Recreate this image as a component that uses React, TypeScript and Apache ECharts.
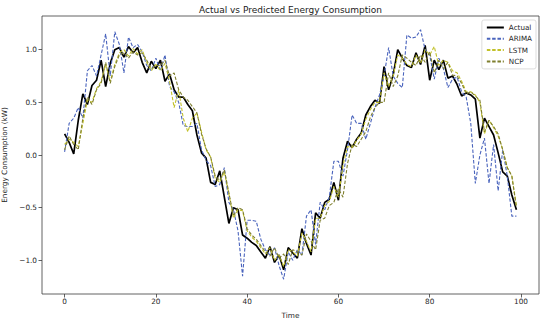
import React, { useEffect, useRef } from "react";
import * as echarts from "echarts";

const time: number[] = Array.from({ length: 100 }, (_, i) => i);

const actual: number[] = [
  0.2, 0.12, 0.01, 0.33, 0.58, 0.48, 0.66, 0.71, 0.9, 0.65,
  0.87, 1.0, 1.02, 0.93, 1.03, 0.97, 1.02, 0.88, 0.78, 0.89,
  0.82, 0.9, 0.7, 0.77, 0.62, 0.55, 0.55, 0.48, 0.42, 0.19,
  0.02, -0.03, -0.26, -0.28, -0.15, -0.4, -0.65, -0.5, -0.52, -0.76,
  -0.79, -0.83, -0.86, -0.92, -0.98, -0.87, -1.02, -0.95, -1.09, -0.88,
  -0.93, -0.98, -0.7, -0.84, -0.95, -0.55, -0.6, -0.45, -0.42, -0.26,
  -0.43, -0.03, 0.13, 0.07, 0.15, 0.21, 0.38, 0.46, 0.52, 0.49,
  0.84, 0.62, 0.76, 1.0, 0.92, 0.85, 0.83, 0.97, 0.86, 1.04,
  0.71, 0.9, 0.81, 0.9, 0.73, 0.75, 0.67, 0.56, 0.59, 0.57,
  0.53, 0.16, 0.35, 0.27, 0.19, 0.02, -0.16, -0.2, -0.38, -0.52,
];

const arima: number[] = [
  0.03, 0.3, 0.35, 0.45, 0.35, 0.8, 0.85, 0.75, 0.95, 1.15,
  0.75, 1.17, 1.05, 0.78, 1.12, 1.02, 1.05, 0.98, 0.85, 0.8,
  0.92, 0.8, 0.95, 0.65, 0.6, 0.5, 0.28, 0.27, 0.27, 0.3,
  0.05, -0.05, -0.1, -0.3, -0.28, -0.12, -0.45, -0.52, -0.72, -1.15,
  -0.62, -0.62, -0.63, -0.8, -0.9, -0.95, -0.88, -1.05, -1.18, -0.92,
  -1.0, -0.9, -0.95, -0.58, -0.52, -0.85, -0.45, -0.52, -0.4, -0.06,
  -0.06, -0.2, 0.05, 0.38, 0.3, 0.3, 0.15, 0.3, 0.45, 0.57,
  0.75, 1.02, 0.75, 0.68, 0.64, 1.14, 1.11, 1.12, 1.19, 1.0,
  0.95, 0.72, 0.92, 0.82, 0.64, 0.72, 0.74, 0.6, 0.55, 0.3,
  -0.27, 0.0, 0.16, -0.27, 0.1, -0.34, 0.05, -0.2, -0.58, -0.58,
];

const lstm: number[] = [
  0.1, 0.15, 0.12, 0.08, 0.3, 0.52, 0.5, 0.63, 0.7, 0.86,
  0.7, 0.86, 0.97, 1.0, 0.94, 1.01, 0.96, 1.0, 0.88, 0.8,
  0.86, 0.8, 0.87, 0.7, 0.45, 0.62, 0.35, 0.22, 0.35, 0.4,
  0.22, 0.05, -0.02, -0.22, -0.26, -0.16, -0.37, -0.6, -0.52, -0.53,
  -0.72, -0.78, -0.82, -0.88, -0.94, -0.88, -1.0, -0.95, -1.06, -0.9,
  -0.92, -0.96, -0.74, -0.82, -0.92, -0.6, -0.6, -0.48, -0.44, -0.3,
  -0.4, -0.1, 0.08, 0.07, 0.14, 0.2, 0.34, 0.43, 0.5, 0.5,
  0.78, 0.65, 0.75, 0.95, 0.92, 0.86, 0.84, 0.95, 0.87, 1.0,
  0.95, 1.03, 0.85, 0.9, 0.88, 0.8, 0.78, 0.7, 0.6, 0.6,
  0.57, 0.5, 0.2, 0.33, 0.26, 0.18, 0.05, -0.12, -0.2, -0.48,
];

const ncp: number[] = [
  0.05, 0.18, 0.1, 0.05, 0.35, 0.55, 0.48, 0.62, 0.68, 0.88,
  0.68, 0.84, 0.95, 0.97, 0.92, 0.98, 0.95, 0.97, 0.9, 0.82,
  0.85, 0.85, 0.9, 0.75, 0.78, 0.62, 0.55, 0.52, 0.46, 0.4,
  0.2, 0.06, -0.02, -0.2, -0.24, -0.14, -0.36, -0.58, -0.5, -0.52,
  -0.7, -0.76, -0.8, -0.86, -0.92, -0.96, -0.88, -0.98, -0.94, -1.04,
  -0.9, -0.92, -0.95, -0.75, -0.82, -0.9, -0.62, -0.6, -0.48, -0.45,
  -0.32, -0.4, -0.08, 0.1, 0.08, 0.15, 0.22, 0.36, 0.45, 0.5,
  0.5, 0.78, 0.65, 0.75, 0.95, 0.92, 0.88, 0.85, 0.95, 0.88,
  0.98, 0.78, 0.9, 0.82, 0.88, 0.76, 0.75, 0.68, 0.58, 0.6,
  0.56, 0.52, 0.22, 0.33, 0.27, 0.2, 0.05, -0.12, -0.2, -0.5,
];

const xTicks: number[] = [0, 20, 40, 60, 80, 100];
const yTicks: number[] = [-1.0, -0.5, 0.0, 0.5, 1.0];

const FONT = "DejaVu Sans";
const TXT = "#262626";

function pairs(vals: number[]): number[][] {
  return time.map((t, i) => [t, vals[i]]);
}

export default function App() {
  const ref = useRef<HTMLDivElement>(null);
  useEffect(() => {
    if (!ref.current) return;
    const chart = echarts.init(ref.current, null, { renderer: "svg" });
    const dashed = (name: string, vals: number[], color: string) => ({
      name,
      type: "line",
      data: pairs(vals),
      showSymbol: false,
      symbol: "none",
      lineStyle: { color, width: 1.1, type: [3.5, 1.8] },
      itemStyle: { color },
    });
    chart.setOption({
      animation: false,
      backgroundColor: "#ffffff",
      textStyle: { fontFamily: FONT },
      title: {
        text: "Actual vs Predicted Energy Consumption",
        left: 290.5,
        textAlign: "center",
        top: 5,
        padding: 0,
        textStyle: { fontSize: 9, fontWeight: "normal", color: "#1a1a1a", fontFamily: FONT },
      },
      legend: {
        orient: "vertical",
        right: 14,
        top: 20,
        padding: [3, 4, 3, 4],
        itemWidth: 17,
        itemHeight: 7,
        itemGap: 2.3,
        borderColor: "#d4d4d4",
        borderWidth: 0.8,
        borderRadius: 2,
        backgroundColor: "rgba(255,255,255,0.85)",
        itemStyle: { opacity: 0, borderWidth: 0 },
        textStyle: { fontSize: 7.2, color: TXT, fontFamily: FONT, lineHeight: 9 },
        data: ["Actual", "ARIMA", "LSTM", "NCP"],
      },
      grid: {
        left: 42,
        right: 11,
        top: 16,
        bottom: 28,
        outerBoundsMode: "none",
        containLabel: false,
        show: true,
        borderColor: "#3a3a3a",
        borderWidth: 0.8,
        backgroundColor: "transparent",
      },
      xAxis: {
        type: "value",
        min: -4.95,
        max: 103.95,
        name: "Time",
        nameLocation: "middle",
        nameGap: 18,
        nameTextStyle: { fontSize: 7.3, color: TXT, fontFamily: FONT },
        axisLine: { show: false, onZero: false },
        splitLine: { show: false },
        axisTick: { show: true, length: 3.5, customValues: xTicks, lineStyle: { color: "#3a3a3a", width: 0.8 } },
        axisLabel: { customValues: xTicks, fontSize: 7.3, color: TXT, margin: 4, fontFamily: FONT },
      },
      yAxis: {
        type: "value",
        min: -1.32,
        max: 1.32,
        name: "Energy Consumption (kW)",
        nameLocation: "middle",
        nameGap: 29,
        nameTextStyle: { fontSize: 7.3, color: TXT, fontFamily: FONT },
        axisLine: { show: false, onZero: false },
        splitLine: { show: false },
        axisTick: { show: true, length: 3.5, customValues: yTicks, lineStyle: { color: "#3a3a3a", width: 0.8 } },
        axisLabel: {
          customValues: yTicks,
          fontSize: 7.3,
          color: TXT,
          margin: 5,
          fontFamily: FONT,
          formatter: (v: number) => v.toFixed(1).replace("-", "\u2212"),
        },
      },
      series: [
        {
          name: "Actual",
          type: "line",
          data: pairs(actual),
          showSymbol: false,
          symbol: "none",
          lineStyle: { color: "#000000", width: 1.7 },
          itemStyle: { color: "#000000" },
        },
        dashed("ARIMA", arima, "#4a64bd"),
        dashed("LSTM", lstm, "#c2c12a"),
        dashed("NCP", ncp, "#7f7f2e"),
      ],
    });
    return () => chart.dispose();
  }, []);
  return (
    <div
      ref={ref}
      style={{ position: "fixed", left: 0, top: 0, width: 550, height: 322 }}
    />
  );
}
